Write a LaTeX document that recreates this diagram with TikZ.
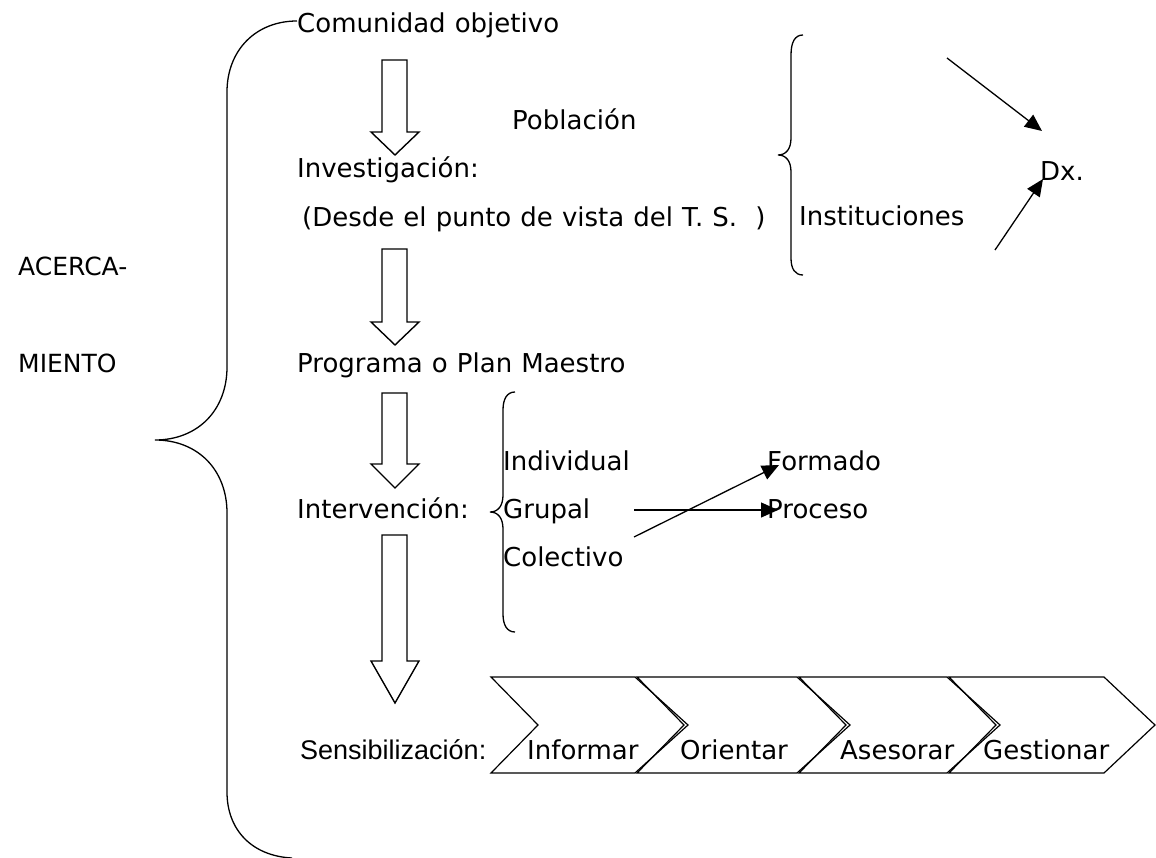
\documentclass[tikz,border=0pt]{standalone}
\usepackage{fontspec}
\setmainfont[WordSpace=1.1]{DejaVu Sans}
\newfontfamily\arialfont{Liberation Sans}
\usetikzlibrary{arrows.meta}
\begin{document}
\begin{tikzpicture}[x=1pt,y=-1pt,
  lbl/.style={anchor=base west, inner sep=0pt, font=\fontsize{26}{30}\selectfont},
  sidelbl/.style={anchor=base west, inner sep=0pt, font=\fontsize{25}{30}\selectfont},
  senslbl/.style={anchor=base west, inner sep=0pt, font=\arialfont\fontsize{27}{30}\selectfont},
  bracepath/.style={line width=1.3pt},
  blockarrow/.style={line width=1.4pt, line join=miter},
  chevron/.style={line width=1.2pt, line join=miter},
  conn/.style={line width=1.3pt, -{Triangle[length=17pt,width=15pt]}}]
\useasboundingbox (0,0) rectangle (1156,858);

% texts
\node[lbl] (comunidad) at (297,33) {Comunidad objetivo};
\node[lbl] (poblacion) at (512,130) {Población};
\node[lbl] (investigacion) at (297,178) {Investigación:};
\node[lbl] (desde) at (302,227) {(Desde el punto de vista del T. S. \ )};
\node[lbl] (instituciones) at (799,226) {Instituciones};
\node[lbl] (dx) at (1040,181) {Dx.};
\node[sidelbl] (acerca) at (18,276) {ACERCA-};
\node[sidelbl] (miento) at (18,372) {MIENTO};
\node[lbl] (programa) at (297,372) {Programa o Plan Maestro};
\node[lbl] (individual) at (503,470) {Individual};
\node[lbl] (intervencion) at (297,518) {Intervención:};
\node[lbl] (grupal) at (503,518) {Grupal};
\node[lbl] (colectivo) at (503,566) {Colectivo};
\node[lbl] (formado) at (767,470) {Formado};
\node[lbl] (proceso) at (767,518) {Proceso};

% big left brace
\draw[bracepath] (297,21) .. controls (256,21) and (227,50) .. (227,92)
  -- (227,367) .. controls (227,410) and (198,440) .. (155,440)
  .. controls (198,440) and (227,470) .. (227,513)
  -- (227,792) .. controls (227,830) and (252,856) .. (292,858);

% right brace (Población / Instituciones)
\draw[bracepath] (803,35) .. controls (795,35) and (791,42) .. (791,55)
  -- (791,138) .. controls (791,149) and (786,155) .. (778,155)
  .. controls (786,155) and (791,161) .. (791,172)
  -- (791,258) .. controls (791,269) and (795,275) .. (803,275);

% intervention brace
\draw[bracepath] (515,392) .. controls (507,392) and (503,399) .. (503,410)
  -- (503,495) .. controls (503,506) and (498,512) .. (490,512)
  .. controls (498,512) and (503,518) .. (503,529)
  -- (503,614) .. controls (503,625) and (507,632) .. (515,632);

% block arrows
\foreach \t/\h/\p in {60/132/155, 249/322/345, 393/464/488, 535/661/703}
  \draw[blockarrow] (382,\t) -- (407,\t) -- (407,\h) -- (419,\h) -- (395,\p)
    -- (371,\h) -- (382,\h) -- cycle;

% arrows to Dx.
\coordinate (dxa1) at (947,58);
\coordinate (dxa1e) at (1042,131);
\coordinate (dxa2) at (995,250);
\coordinate (dxa2e) at (1043,179);
\draw[conn] (dxa1) -- (dxa1e);
\draw[conn] (dxa2) -- (dxa2e);

% arrows Grupal -> Proceso, Colectivo -> Formado
\coordinate (ga) at (634,510);
\coordinate (gae) at (778,510);
\coordinate (ca) at (634,537);
\coordinate (cae) at (779,465);
\draw[conn] (ga) -- (gae);
\draw[conn] (ca) -- (cae);

% chevrons
\foreach \L/\R/\T in {491/635/688, 637/797/850, 799/947/1000, 949/1104/1155}
  \draw[chevron] (\L,677) -- (\R,677) -- (\T,725) -- (\R,773) -- (\L,773)
    -- ({\L+47},725) -- cycle;

\node[senslbl] (sens) at (300,759) {Sensibilización:};
\node[lbl] (informar) at (527,759) {Informar};
\node[lbl] (orientar) at (680,759) {Orientar};
\node[lbl] (asesorar) at (840,759) {Asesorar};
\node[lbl] (gestionar) at (983,759) {Gestionar};
\end{tikzpicture}
\end{document}
